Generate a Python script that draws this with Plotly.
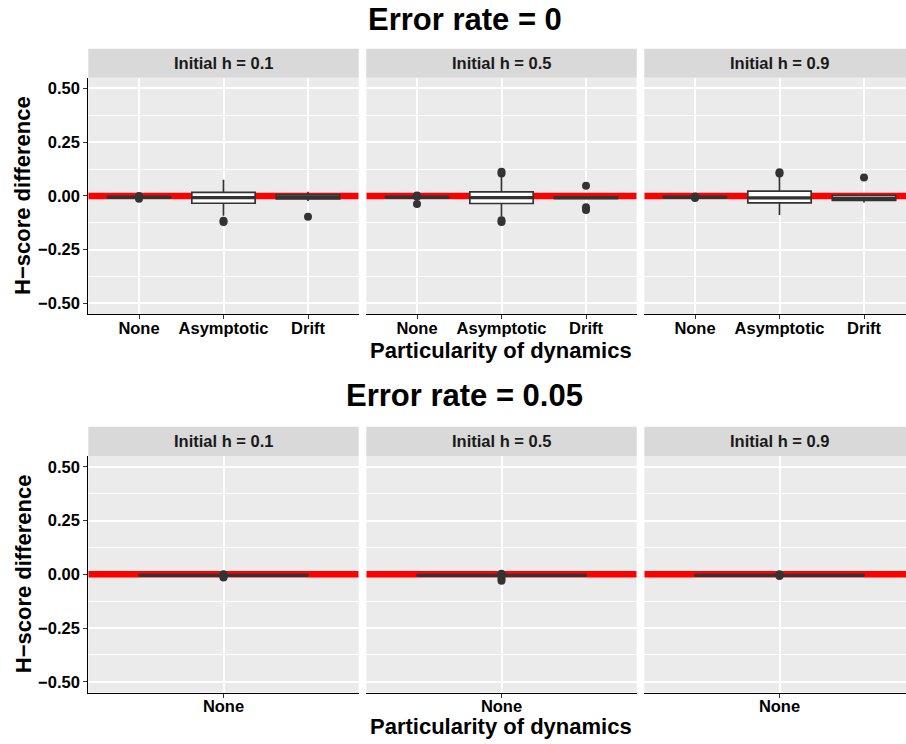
import plotly.graph_objects as go

# ---------------- data ----------------
row_titles = ["Error rate = 0", "Error rate = 0.05"]
strip_labels = ["Initial h = 0.1", "Initial h = 0.5", "Initial h = 0.9"]
cats_err0 = ["None", "Asymptotic", "Drift"]
cats_err005 = ["None"]
y_tickvals = [-0.5, -0.25, 0.0, 0.25, 0.5]
y_ticktext = ["\u22120.50", "\u22120.25", "0.00", "0.25", "0.50"]
x_title = "Particularity of dynamics"
y_title = "H\u2212score difference"
ref_value = 0.0

# Error rate = 0 : one list per panel (h = 0.1, 0.5, 0.9), one value per category
err0_q1 = [[-0.007, -0.034, -0.014], [-0.007, -0.035, -0.011], [-0.007, -0.032, -0.021]]
err0_med = [[-0.006, -0.008, -0.006], [-0.006, -0.008, -0.008], [-0.006, -0.009, -0.012]]
err0_q3 = [[-0.005, 0.017, 0.005], [-0.005, 0.019, -0.005], [-0.005, 0.022, 0.002]]
err0_lo = [[-0.009, -0.092, -0.023], [-0.009, -0.095, -0.013], [-0.009, -0.089, -0.030]]
err0_hi = [[-0.004, 0.075, 0.019], [-0.004, 0.089, -0.003], [-0.004, 0.090, 0.002]]
err0_out = [
    [[-0.013, 0.0], [-0.115, -0.121], [-0.097]],
    [[0.002, -0.004, -0.037], [0.105, 0.112, -0.113, -0.121], [0.047, -0.053, -0.065]],
    [[-0.003, -0.010], [0.104, 0.110], [0.086]],
]

# Error rate = 0.05
err005_q1 = [[-0.006], [-0.006], [-0.006]]
err005_med = [[-0.005], [-0.005], [-0.005]]
err005_q3 = [[-0.004], [-0.004], [-0.004]]
err005_lo = [[-0.008], [-0.008], [-0.008]]
err005_hi = [[-0.003], [-0.003], [-0.003]]
err005_out = [
    [[0.0, -0.010, -0.015]],
    [[0.002, -0.006, -0.020, -0.030]],
    [[0.0, -0.008]],
]

# ---------------- layout geometry (pixels) ----------------
W, H = 906, 744
FONT = "Liberation Sans, Arial, Helvetica, sans-serif"


def fx(px):
    return min(px / W, 1.0)


def fy(py):
    return 1 - py / H


col_left = [88.3, 366.3, 644.3]
panel_w = 270.4
rows_geom = [(48.7, 77.7, 314.2), (426.7, 456.0, 692.5)]  # strip top, panel top, panel bottom
title_y = [19.5, 395.5]
xtitle_y = [350.5, 726.0]
box_width = 0.75
y_range = [-0.55, 0.55]
red_px = 6.5

rows_data = [
    (cats_err0, err0_q1, err0_med, err0_q3, err0_lo, err0_hi, err0_out),
    (cats_err005, err005_q1, err005_med, err005_q3, err005_lo, err005_hi, err005_out),
]

fig = go.Figure()
layout = dict(
    width=W, height=H,
    margin=dict(l=0, r=0, t=0, b=0),
    paper_bgcolor="white",
    plot_bgcolor="#EBEBEB",
    boxmode="overlay",
    barmode="overlay",
    showlegend=False,
    font=dict(family=FONT, color="black"),
)
shapes = []
annotations = []

for r, (cats, q1s, meds, q3s, los, his, outs) in enumerate(rows_data):
    strip_top, p_top, p_bot = rows_geom[r]
    ncat = len(cats)
    units = ncat + 0.2
    y_per_px = (y_range[1] - y_range[0]) / (p_bot - p_top)
    for c in range(3):
        k = r * 3 + c + 1
        xname = "x" if k == 1 else f"x{k}"
        yname = "y" if k == 1 else f"y{k}"
        left = col_left[c]
        full_right = left + panel_w
        vis_right = min(full_right, W)
        xr1 = 0.4 + (vis_right - left) * units / panel_w
        first_col = c == 0

        layout["xaxis" if k == 1 else f"xaxis{k}"] = dict(
            domain=[fx(left), fx(vis_right)],
            range=[0.4, xr1],
            anchor=yname,
            tickmode="array",
            tickvals=[i + 1 for i in range(ncat)],
            ticktext=cats,
            showgrid=True, gridcolor="white", gridwidth=1.6,
            zeroline=False,
            showline=True, linecolor="black", linewidth=1.3,
            ticks="outside", ticklen=4, tickwidth=1.2, tickcolor="#333333",
            ticklabelstandoff=-5,
            tickfont=dict(family=FONT, size=16.5, color="black", weight="bold"),
            fixedrange=True,
        )
        layout["yaxis" if k == 1 else f"yaxis{k}"] = dict(
            domain=[fy(p_bot), fy(p_top)],
            range=y_range,
            anchor=xname,
            tickmode="array",
            tickvals=y_tickvals,
            ticktext=y_ticktext,
            showticklabels=first_col,
            showgrid=True, gridcolor="white", gridwidth=1.6,
            minor=dict(tickmode="array", tickvals=[-0.375, -0.125, 0.125, 0.375],
                       showgrid=True, gridcolor="white", gridwidth=0.8, ticks=""),
            zeroline=False,
            showline=first_col, linecolor="black", linewidth=1.3,
            ticks="outside" if first_col else "", ticklen=4, tickwidth=1.2, tickcolor="#333333",
            tickfont=dict(family=FONT, size=16.5, color="black", weight="bold"),
            fixedrange=True,
        )

        # red reference line at zero (bar layer sits above grid, below boxes)
        fig.add_trace(go.Bar(
            orientation="h", y=[ref_value], base=[0.4], x=[xr1 - 0.4],
            width=[red_px * y_per_px], marker=dict(color="#FF0000", line=dict(width=0)),
            xaxis=xname, yaxis=yname, hoverinfo="skip",
        ))

        # strip
        shapes.append(dict(type="rect", xref="paper", yref="paper",
                           x0=fx(left), x1=fx(vis_right), y0=fy(p_top), y1=fy(strip_top),
                           fillcolor="#D9D9D9", line=dict(width=0), layer="below"))
        annotations.append(dict(text=strip_labels[c], xref="paper", yref="paper",
                                x=(left + full_right) / 2 / W,
                                y=fy((strip_top + p_top) / 2), xanchor="center", yanchor="middle",
                                showarrow=False,
                                font=dict(family=FONT, size=16.5, color="#1A1A1A", weight="bold")))

        for i in range(ncat):
            pos = i + 1
            fig.add_trace(go.Box(
                x=[pos], q1=[q1s[c][i]], median=[meds[c][i]], q3=[q3s[c][i]],
                lowerfence=[los[c][i]], upperfence=[his[c][i]],
                width=box_width, whiskerwidth=0, boxpoints=False,
                fillcolor="white", line=dict(color="#333333", width=1.7),
                xaxis=xname, yaxis=yname, hoverinfo="skip",
            ))
            fig.add_trace(go.Scatter(
                x=[pos - box_width / 2, pos + box_width / 2], y=[meds[c][i], meds[c][i]],
                mode="lines", line=dict(color="#333333", width=3.4),
                xaxis=xname, yaxis=yname, hoverinfo="skip",
            ))
            o = outs[c][i]
            fig.add_trace(go.Scatter(
                x=[pos] * len(o), y=o, mode="markers",
                marker=dict(color="#333333", size=8, line=dict(width=0)),
                xaxis=xname, yaxis=yname, hoverinfo="skip",
            ))

    # row title
    annotations.append(dict(text=row_titles[r], xref="paper", yref="paper",
                            x=465 / W, y=fy(title_y[r]), xanchor="center", yanchor="middle",
                            showarrow=False,
                            font=dict(family=FONT, size=31, color="black", weight="bold")))
    # x axis title (centred on the full, uncropped facet area)
    annotations.append(dict(text=x_title, xref="paper", yref="paper",
                            x=(col_left[0] + col_left[2] + panel_w) / 2 / W, y=fy(xtitle_y[r]),
                            xanchor="center", yanchor="middle", showarrow=False,
                            font=dict(family=FONT, size=22, color="black", weight="bold")))
    # y axis title
    annotations.append(dict(text=y_title, xref="paper", yref="paper",
                            x=fx(23), y=fy((p_top + p_bot) / 2), xanchor="center", yanchor="middle",
                            textangle=-90, showarrow=False,
                            font=dict(family=FONT, size=22, color="black", weight="bold")))

layout["shapes"] = shapes
layout["annotations"] = annotations
fig.update_layout(**layout)
fig.write_html(
    "out.html",
    config={"displayModeBar": False},
    post_script="document.body.style.margin='0';document.body.style.padding='0';",
)
